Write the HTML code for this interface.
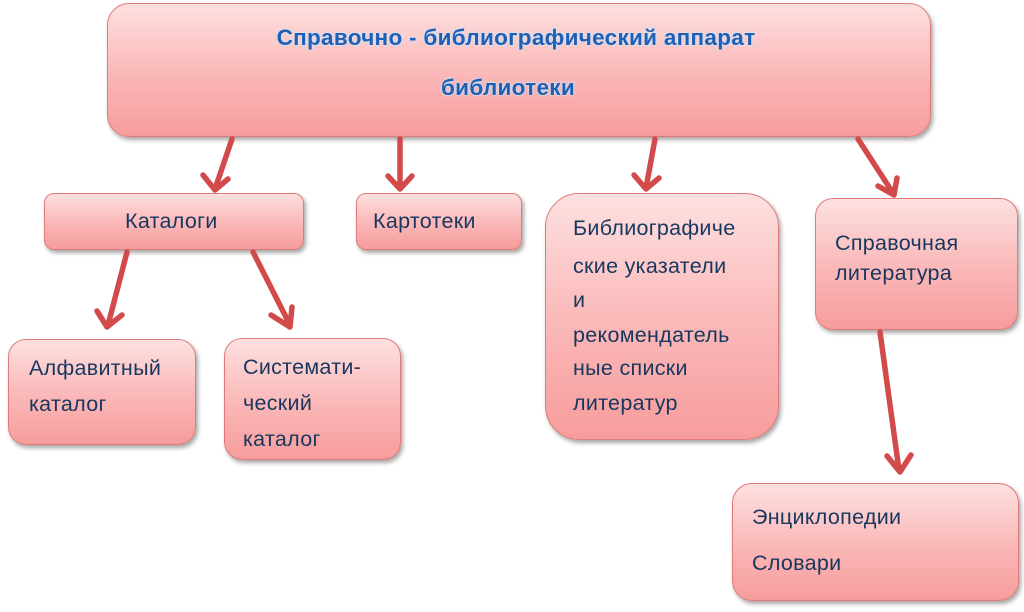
<!DOCTYPE html>
<html><head><meta charset="utf-8"><style>
html,body{margin:0;padding:0;width:1024px;height:612px;background:#fff;overflow:hidden;position:relative;font-family:"Liberation Sans","DejaVu Sans",sans-serif}
.b{position:absolute;box-sizing:border-box;border:1.5px solid #e07a7a;background:linear-gradient(#fde0e0,#fbbaba 50%,#f79c9c);box-shadow:2px 3px 4px rgba(0,0,0,0.35);border-radius:14px}
.t{position:absolute;color:#17375e;font-size:21.5px;white-space:nowrap;line-height:22px;letter-spacing:0.3px}
.ti{position:absolute;color:#1f5fb4;font-size:22.5px;font-weight:bold;white-space:nowrap;text-shadow:0 0 3px #bcd7f5,0 0 2px #fff;width:1024px;text-align:center;left:0;letter-spacing:0.3px}
svg{position:absolute;left:0;top:0}
</style></head><body>
<div class="b" style="left:107px;top:3px;width:824px;height:134px;border-radius:22px"></div>
<div class="b" style="left:44px;top:193px;width:260px;height:57px;border-radius:10px"></div>
<div class="b" style="left:356px;top:193px;width:166px;height:57px;border-radius:10px"></div>
<div class="b" style="left:545px;top:193px;width:234px;height:247px;border-radius:34px"></div>
<div class="b" style="left:815px;top:198px;width:203px;height:132px;border-radius:18px"></div>
<div class="b" style="left:8px;top:339px;width:188px;height:106px;border-radius:18px"></div>
<div class="b" style="left:224px;top:338px;width:177px;height:122px;border-radius:18px"></div>
<div class="b" style="left:732px;top:483px;width:287px;height:118px;border-radius:20px"></div>

<svg width="1024" height="612">
<g stroke="#d24a4a" stroke-width="5.5" fill="none" stroke-linecap="round" stroke-linejoin="round">
<line x1="232" y1="139" x2="215" y2="189"/><polyline points="203,175 215,190 228,179"/>
<line x1="400" y1="139" x2="400" y2="188"/><polyline points="388,176 400,189 412,176"/>
<line x1="655" y1="139" x2="646" y2="188"/><polyline points="634,175 646,189 659,178"/>
<line x1="858" y1="139" x2="893" y2="193"/><polyline points="878,186 894,195 897,178"/>
<line x1="127" y1="252" x2="108" y2="325"/><polyline points="97,311 107,327 122,315"/>
<line x1="253" y1="252" x2="290" y2="325"/><polyline points="271,315 290,327 292,307"/>
<line x1="880" y1="332" x2="899" y2="470"/><polyline points="887,456 900,472 911,455"/>
</g></svg>

<div class="ti" style="top:25px;left:4px">Справочно - библиографический аппарат</div>
<div class="ti" style="top:75px;left:-4px">библиотеки</div>
<div class="t" style="left:125px;top:210px">Каталоги</div>
<div class="t" style="left:373px;top:210px">Картотеки</div>
<div class="t" style="left:573px;top:217px">Библиографиче</div>
<div class="t" style="left:573px;top:255px">ские указатели</div>
<div class="t" style="left:573px;top:289px">и</div>
<div class="t" style="left:573px;top:324px">рекомендатель</div>
<div class="t" style="left:573px;top:357px">ные списки</div>
<div class="t" style="left:573px;top:392px">литератур</div>
<div class="t" style="left:835px;top:232px">Справочная</div>
<div class="t" style="left:835px;top:262px">литература</div>
<div class="t" style="left:29px;top:357px">Алфавитный</div>
<div class="t" style="left:29px;top:393px">каталог</div>
<div class="t" style="left:243px;top:356px">Системати-</div>
<div class="t" style="left:243px;top:392px">ческий</div>
<div class="t" style="left:243px;top:428px">каталог</div>
<div class="t" style="left:752px;top:506px">Энциклопедии</div>
<div class="t" style="left:752px;top:552px">Словари</div>
</body></html>
